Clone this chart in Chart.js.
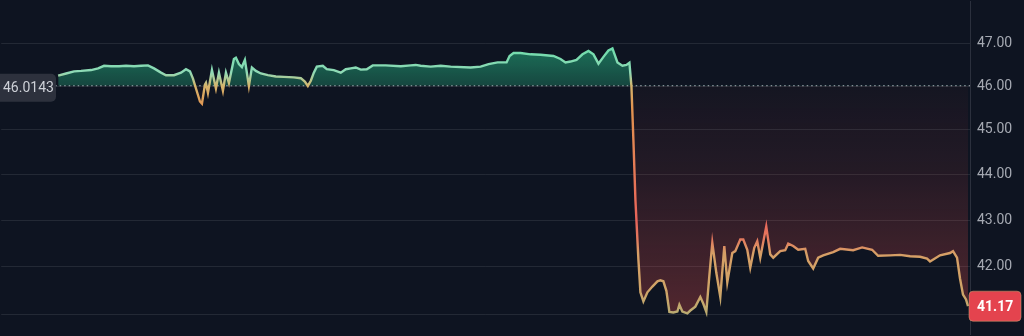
<!DOCTYPE html>
<html>
<head>
<meta charset="utf-8">
<script src="https://cdn.jsdelivr.net/npm/chart.js@4/dist/chart.umd.min.js"></script>
<style>
  html, body { margin: 0; padding: 0; background: #0e1421; }
  #wrap { width: 1024px; height: 336px; position: relative; }
</style>
</head>
<body>
<div id="wrap"><canvas id="price"></canvas></div>
<script>
// time (ticks since start) and price
const times = [0, 8, 16, 23, 33, 40, 46, 53, 61, 68, 76, 83, 90, 96, 103, 108, 116, 123, 128, 132,
  135, 138, 142, 144, 147, 148, 150, 154, 158, 161, 165, 168, 171, 176, 178, 181, 184, 187, 191, 194,
  198, 203, 210, 218, 226, 236, 243, 247, 250, 253, 256, 259, 265, 269, 276, 283, 288, 293, 298, 303,
  309, 315, 328, 343, 353, 358, 363, 373, 383, 393, 413, 423, 431, 440, 449, 452, 456, 463, 473, 483,
  496, 503, 508, 513, 519, 525, 531, 536, 541, 546, 551, 555, 560, 565, 569, 572, 574, 576, 578, 581,
  583, 586, 590, 595, 600, 603, 606, 609, 612, 616, 620, 622, 625, 630, 633, 638, 643, 646, 649, 652,
  655, 659, 663, 667, 670, 675, 678, 683, 686, 690, 693, 697, 700, 703, 709, 713, 716, 723, 728, 731,
  736, 741, 748, 751, 756, 761, 766, 776, 783, 796, 805, 815, 821, 833, 843, 853, 863, 870, 873, 883,
  893, 896, 900, 903, 906, 909, 911];
const prices = [46.25, 46.30, 46.35, 46.36, 46.38, 46.42, 46.48, 46.47, 46.47, 46.48, 46.47, 46.48, 46.49, 46.42, 46.32, 46.26, 46.26, 46.32, 46.40, 46.35,
  46.18, 45.95, 45.65, 45.60, 46.04, 46.08, 45.85, 46.38, 45.95, 46.32, 45.90, 46.32, 46.08, 46.64, 46.67, 46.52, 46.45, 46.62, 46.01, 46.44,
  46.36, 46.30, 46.26, 46.23, 46.22, 46.21, 46.19, 46.11, 46.01, 46.13, 46.32, 46.46, 46.48, 46.40, 46.38, 46.32, 46.40, 46.42, 46.44, 46.39,
  46.40, 46.49, 46.49, 46.47, 46.49, 46.50, 46.48, 46.46, 46.48, 46.46, 46.44, 46.46, 46.52, 46.56, 46.56, 46.71, 46.78, 46.78, 46.75, 46.74,
  46.71, 46.64, 46.56, 46.58, 46.62, 46.75, 46.83, 46.75, 46.53, 46.69, 46.84, 46.89, 46.56, 46.48, 46.50, 46.55, 46.01, 44.76, 43.44, 42.15,
  41.46, 41.27, 41.46, 41.58, 41.69, 41.71, 41.69, 41.49, 41.05, 41.04, 41.06, 41.20, 41.06, 41.02, 41.08, 41.16, 41.36, 41.22, 41.05, 41.80,
  42.51, 41.87, 41.36, 42.44, 41.67, 42.29, 42.33, 42.58, 42.58, 42.36, 41.98, 42.40, 42.54, 42.19, 42.86, 42.26, 42.19, 42.33, 42.35, 42.49,
  42.44, 42.36, 42.38, 42.12, 41.96, 42.19, 42.24, 42.31, 42.38, 42.35, 42.41, 42.36, 42.23, 42.24, 42.25, 42.22, 42.21, 42.17, 42.11, 42.24,
  42.29, 42.33, 42.19, 41.75, 41.41, 41.31, 41.17];
const basePrice = 46.0143;
const lastPrice = 41.17;
const tickValues = [41, 42, 43, 44, 45, 46, 47];

const FONT = 'Roboto, "Noto Sans", sans-serif';

const labelsPlugin = {
    id: 'priceLabels',
    afterDraw(chart) {
        const c = chart.ctx;
        const y = chart.scales.y;
        const area = chart.chartArea;

        // baseline label on the left
        const by = y.getPixelForValue(basePrice) + 2;
        c.save();
        c.fillStyle = 'rgba(48, 52, 64, 0.92)';
        c.beginPath();
        c.roundRect(-6, by - 14, 62, 28, 5);
        c.fill();
        c.fillStyle = '#cdd0d7';
        c.font = '14px ' + FONT;
        c.textBaseline = 'middle';
        c.textAlign = 'left';
        c.fillText(basePrice.toFixed(4), 3, by + 1);

        // last price tag on the axis
        const ly = y.getPixelForValue(lastPrice);
        c.fillStyle = '#e4434e';
        c.beginPath();
        c.roundRect(area.right - 1, ly - 15, 52, 30, 4);
        c.fill();
        c.strokeStyle = 'rgba(200, 150, 110, 0.6)';
        c.lineWidth = 1;
        c.stroke();
        c.fillStyle = '#ffffff';
        c.font = 'bold 14px ' + FONT;
        c.fillText(lastPrice.toFixed(2), area.right + 7, ly + 1);
        c.restore();
    },
};

const ctx = document.getElementById('price').getContext('2d');
const points = times.map((t, i) => ({ x: t, y: prices[i] }));

const chart = new Chart(ctx, {
    type: 'line',
    data: {
        datasets: [
            {
                data: points,
                borderColor: '#6fd6a8',
                borderWidth: 2.4,
                pointRadius: 0,
                tension: 0,
                fill: { target: { value: basePrice }, above: 'rgba(38,166,122,0.4)', below: 'rgba(239,83,80,0.15)' },
            },
            {
                data: [{ x: -57, y: basePrice }, { x: 913, y: basePrice }],
                borderColor: 'rgba(205, 208, 216, 0.85)',
                borderWidth: 1,
                borderDash: [1.5, 3],
                pointRadius: 0,
                fill: false,
            },
        ],
    },
    options: {
        responsive: true,
        maintainAspectRatio: false,
        animation: false,
        layout: { padding: 0 },
        plugins: { legend: { display: false }, tooltip: { enabled: false } },
        scales: {
            x: {
                type: 'linear',
                min: -57,
                max: 913,
                display: false,
            },
            y: {
                type: 'logarithmic',
                position: 'right',
                min: 40.58,
                max: 48.02,
                bounds: 'data',
                afterBuildTicks: (scale) => {
                    scale.ticks = tickValues.map((v) => ({ value: v }));
                },
                afterFit: (scale) => {
                    scale.width = 54;
                    scale.paddingTop = 0;
                    scale.paddingBottom = 0;
                },
                grid: { color: 'rgba(255,255,255,0.09)', drawTicks: false },
                border: { display: true, color: '#2b303d' },
                ticks: {
                    color: '#a5a9b2',
                    padding: 7,
                    font: { size: 14, family: FONT },
                    callback: (v) => Number(v).toFixed(2),
                },
            },
        },
    },
    plugins: [labelsPlugin],
});

// gradients need the laid-out scale
const ys = chart.scales.y;
const h = chart.height;
const gradient = (stops) => {
    const g = ctx.createLinearGradient(0, 0, 0, h);
    stops.forEach(([v, col]) => {
        g.addColorStop(Math.min(1, Math.max(0, ys.getPixelForValue(v) / h)), col);
    });
    return g;
};
const ds = chart.data.datasets[0];
ds.borderColor = gradient([
    [46.9, '#6ddcab'],
    [46.3, '#90dab6'],
    [46.0, '#d6b56c'],
    [45.5, '#e29450'],
    [43.0, '#e8645a'],
    [42.6, '#e47a5e'],
    [42.3, '#d69f66'],
    [41.5, '#cfa468'],
    [41.0, '#b8ab72'],
]);
ds.fill = {
    target: { value: basePrice },
    above: gradient([
        [46.9, 'rgba(38,170,124,0.62)'],
        [46.0, 'rgba(38,170,124,0.34)'],
    ]),
    below: gradient([
        [46.0, 'rgba(239,83,80,0.03)'],
        [44.0, 'rgba(239,83,80,0.1)'],
        [41.0, 'rgba(239,83,80,0.3)'],
    ]),
};
chart.update('none');
</script>
</body>
</html>
